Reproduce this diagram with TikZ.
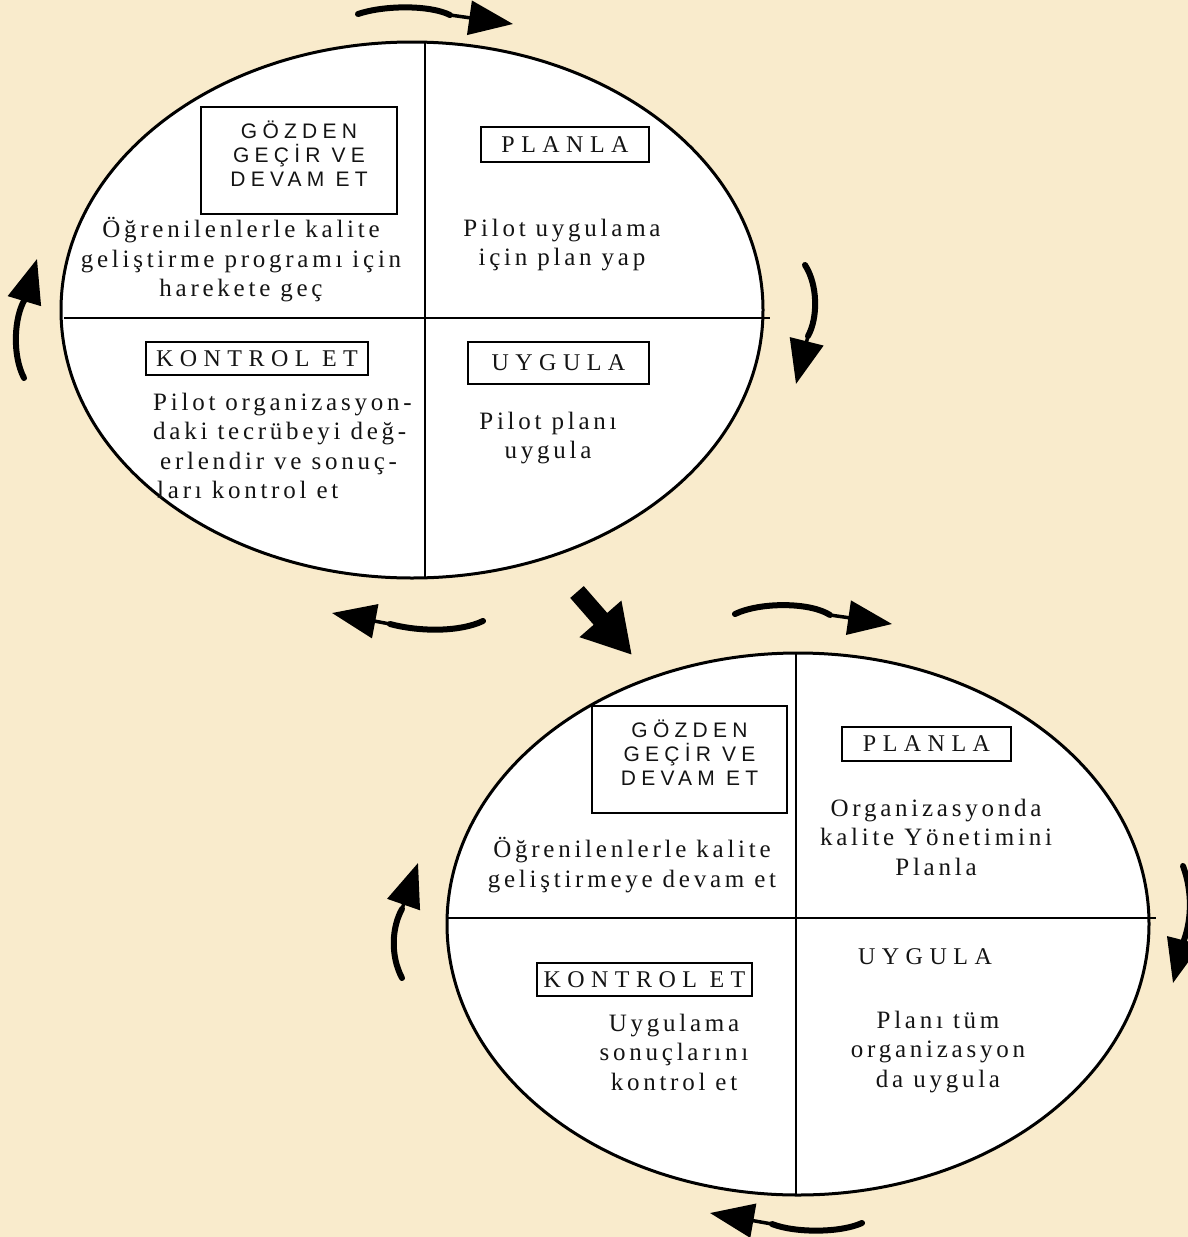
\documentclass[tikz,border=0pt]{standalone}
\usepackage{fontspec}
\setmainfont{Liberation Serif}
\newfontfamily\bodyfont{Liberation Serif}[LetterSpace=15]
\newfontfamily\headfont{Liberation Serif}[LetterSpace=27]
\newfontfamily\gsans{Liberation Sans}[LetterSpace=25]
\usetikzlibrary{arrows.meta}
\definecolor{bg}{RGB}{249,235,204}
\definecolor{ink}{RGB}{20,20,20}
\tikzset{
  ell/.style={draw=black, fill=white, line width=3pt},
  divline/.style={draw=black, line width=2.8pt},
  hbox/.style={draw=black, line width=2.2pt, inner sep=0pt, text=ink,
    font=\headfont\fontsize{24}{28}\selectfont},
  gbox/.style={draw=black, line width=1.8pt, inner sep=0pt},
  gtext/.style={align=center, inner sep=0pt, text=ink,
    font=\gsans\fontsize{21}{24}\selectfont},
  body/.style={align=center, inner sep=0pt, text=ink,
    font=\bodyfont\fontsize{25}{29.5}\selectfont},
  htext/.style={inner sep=0pt, text=ink,
    font=\headfont\fontsize{24}{28}\selectfont},
  brush/.style={line width=6pt, line cap=round, draw=black},
  neck/.style={line width=3.5pt, draw=black,
    -{Triangle[length=44pt,width=34pt]}},
}
\begin{document}
\begin{tikzpicture}[x=1pt,y=-1pt]
\useasboundingbox (0,0) rectangle (1188,1237);
\fill[bg] (0,0) rectangle (1188,1237);
\clip (0,0) rectangle (1188,1237);

% ---------- top cycle ----------
\draw[ell] (412,310) ellipse [x radius=351, y radius=268];
\draw[divline] (425,42) -- (425,578);
\draw[divline] (64,318) -- (770,318);

\node[gbox, minimum width=196pt, minimum height=107pt] (g1) at (299,160.5) {};
\node[gtext] (g1t) at ([yshift=7pt]g1.center) {GÖZDEN\\GEÇİR VE\\DEVAM ET};
\node[body] (g1b) at (241,260) {Öğrenilenlerle kalite\\geliştirme programı için\\harekete geç};

\node[hbox, minimum width=168pt, minimum height=35pt] (p1) at (565,144.5) {PLANLA};
\node[body] (p1b) at (562,245) {Pilot uygulama\\için plan yap};

\node[hbox, minimum width=222pt, minimum height=33pt] (k1) at (257,358.5) {KONTROL ET};
\node[body, align=left, anchor=west] (k1b) at (153,446) {Pilot organizasyon-\\daki tecrübeyi değ-\\\hspace{7pt}erlendir ve sonuç-\\\hspace{4pt}ları kontrol et};

\node[hbox, line width=2.8pt, minimum width=181pt, minimum height=42pt] (u1) at (558.5,363) {UYGULA};
\node[body] (u1b) at (548,438) {Pilot planı\\uygula};

% ---------- bottom cycle ----------
\draw[ell] (798,924) ellipse [x radius=351, y radius=271];
\draw[divline] (796,652) -- (796,1195);
\draw[divline] (447,918) -- (1156,918);

\node[gbox, minimum width=195pt, minimum height=107pt] (g2) at (689.5,759.5) {};
\node[gtext] (g2t) at ([yshift=7pt]g2.center) {GÖZDEN\\GEÇİR VE\\DEVAM ET};
\node[body] (g2b) at (632,865) {Öğrenilenlerle kalite\\geliştirmeye devam et};

\node[hbox, minimum width=169pt, minimum height=34pt] (p2) at (926.5,744) {PLANLA};
\node[body] (p2b) at (936,837) {Organizasyonda\\kalite Yönetimini\\Planla};

\node[htext] (u2) at (925,957) {UYGULA};
\node[body] (u2b) at (938,1052) {Planı tüm\\organizasyon\\da uygula};

\node[hbox, minimum width=215pt, minimum height=33pt] (k2) at (644.5,979.5) {KONTROL ET};
\node[body] (k2b) at (674,1052) {Uygulama\\sonuçlarını\\kontrol et};

% ---------- cycle arrows ----------
% top
\coordinate (a1s) at (358,14); \coordinate (a1n) at (450,15); \coordinate (a1t) at (513,24);
\draw[brush] (a1s) .. controls (385,5) and (430,5) .. (a1n);
\draw[neck] (a1n) -- (a1t);
% right of top ellipse
\coordinate (a2s) at (805,265); \coordinate (a2n) at (808,336); \coordinate (a2t) at (796,384);
\draw[brush] (a2s) .. controls (818,285) and (818,318) .. (a2n);
\draw[neck] (a2n) -- (a2t);
% left of top ellipse
\coordinate (a3s) at (24,378); \coordinate (a3n) at (25,299); \coordinate (a3t) at (37,259);
\draw[brush] (a3s) .. controls (12,355) and (14,317) .. (a3n);
\draw[neck] (a3n) -- (a3t);
% below top ellipse
\coordinate (a4s) at (483,621); \coordinate (a4n) at (390,624); \coordinate (a4t) at (332,613);
\draw[brush] (a4s) .. controls (460,632) and (420,632) .. (a4n);
\draw[neck] (a4n) -- (a4t);
% big connecting arrow
\coordinate (bs) at (577,592); \coordinate (bt) at (632,655);
\draw[line width=18pt, -{Triangle[length=48pt,width=52pt]}] (bs) -- (bt);
% above bottom ellipse
\coordinate (a6s) at (735,614); \coordinate (a6n) at (830,615); \coordinate (a6t) at (892,624);
\draw[brush] (a6s) .. controls (760,602) and (810,602) .. (a6n);
\draw[neck] (a6n) -- (a6t);
% left of bottom ellipse
\coordinate (a7s) at (402,978); \coordinate (a7n) at (402,909); \coordinate (a7t) at (418,863);
\draw[brush] (a7s) .. controls (390,955) and (392,927) .. (a7n);
\draw[neck] (a7n) -- (a7t);
% right of bottom ellipse
\coordinate (a8s) at (1183,866); \coordinate (a8n) at (1184,940); \coordinate (a8t) at (1173,983);
\draw[brush] (a8s) .. controls (1192,890) and (1192,918) .. (a8n);
\draw[neck] (a8n) -- (a8t);
% below bottom ellipse
\coordinate (a9s) at (862,1223); \coordinate (a9n) at (772,1224); \coordinate (a9t) at (710,1213);
\draw[brush] (a9s) .. controls (840,1233) and (795,1233) .. (a9n);
\draw[neck] (a9n) -- (a9t);
\end{tikzpicture}
\end{document}
